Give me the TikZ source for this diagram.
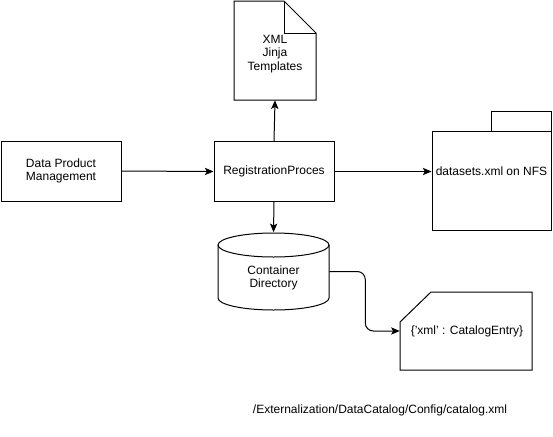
\documentclass[tikz,border=0pt]{standalone}
\usepackage{fontspec}
\setmainfont{Liberation Sans}
\usetikzlibrary{arrows.meta}
\begin{document}
\begin{tikzpicture}[x=0.75pt,y=-0.75pt,
  every node/.style={font=\fontsize{9pt}{10.2pt}\selectfont, inner sep=0pt, align=center},
  shapeline/.style={draw=black, line width=0.75pt},
  boxnode/.style={shapeline, rectangle, minimum width=90pt, minimum height=45pt},
  ghost/.style={rectangle, draw=none},
  conn/.style={draw=black, line width=0.75pt, -{Stealth[length=6.5pt,width=5.5pt,inset=1.5pt]}}]
\useasboundingbox (0,0) rectangle (553,436);
% boxes
\node[boxnode] (dpm) at (61,171) {Data Product\\Management};
\node[boxnode] (reg) at (274,171.5) {RegistrationProces};
% XML document
\draw[shapeline, line join=miter] (234,1) -- (284,1) -- (316,33) -- (316,100) -- (234,100) -- cycle;
\draw[shapeline] (284,1) -- (284,33) -- (316,33);
\node[ghost, minimum width=61.5pt, minimum height=74.25pt] (xmlbox) at (275,50.5) {};
\node (xmltext) at (275,54) {XML\\Jinja\\Templates};
% folder
\draw[shapeline] (491,111) rectangle (551,131);
\node[shapeline, rectangle, minimum width=89.25pt, minimum height=74.25pt] (nfsbox) at (491.5,180.5) {};
\node (nfstext) at (491.5,171) {datasets.xml on NFS};
% cylinder
\draw[shapeline] (218,245) -- (218,298) arc[start angle=180, end angle=0, x radius=55.5, y radius=12] -- (329,245);
\draw[shapeline] (273.5,245) ellipse[x radius=55.5, y radius=12];
\node[ghost, minimum width=83.25pt, minimum height=58.5pt] (cyl) at (273.5,271.5) {};
\node (cyltext) at (273.5,278) {Container\\Directory};
% card
\draw[shapeline, line join=miter] (400,322) -- (431,292) -- (532,292) -- (532,370) -- (400,370) -- cycle;
\node[ghost, minimum width=99pt, minimum height=58.5pt] (card) at (466,331) {};
\node (cardtext) at (467,331) {\{'xml' : CatalogEntry\}};
% path label
\node (pathlabel) at (380,410) {/Externalization/DataCatalog/Config/catalog.xml};
% connectors
\draw[conn] (dpm.east) -- (reg.west);
\draw[conn] (reg.north) -- (xmlbox.south);
\draw[conn] (reg.east) -- (reg.east -| nfsbox.west);
\draw[conn] (reg.south) -- (cyl.north);
\draw[conn, rounded corners=6pt] (cyl.east) -- ++(36,0) |- (card.west);
\end{tikzpicture}
\end{document}
